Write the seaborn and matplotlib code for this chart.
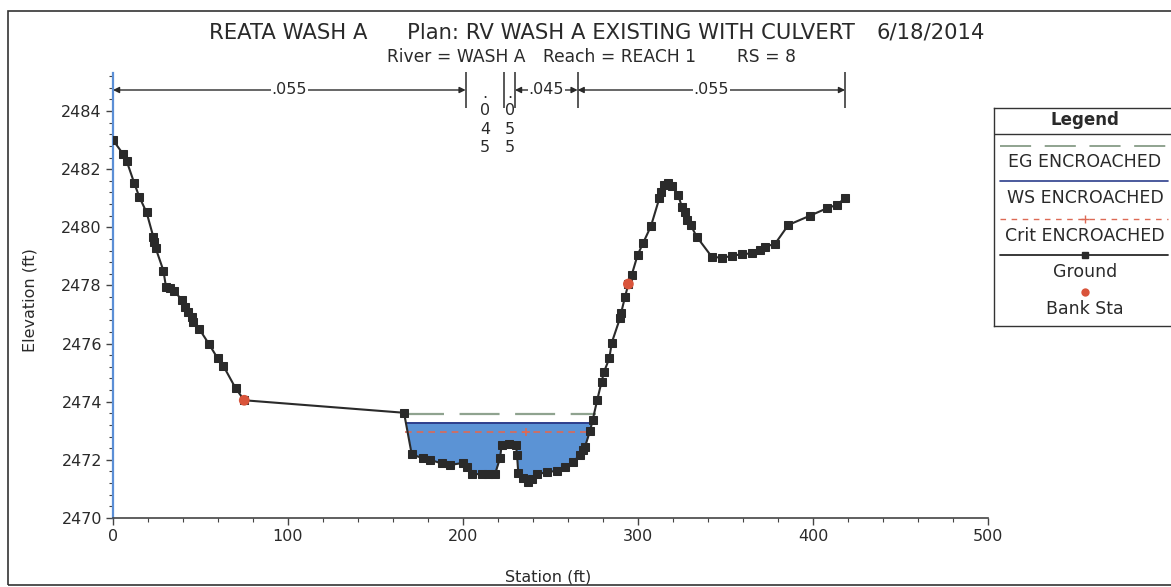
import numpy as np
import matplotlib
matplotlib.use("Agg")
import matplotlib.pyplot as plt
from matplotlib.patches import Rectangle
from matplotlib.ticker import MultipleLocator
import seaborn as sns

# ---------------- data ----------------
STATION = [0.0, 5.9, 7.8, 12.2, 15.0, 19.2, 23.0, 23.6, 24.4, 28.8, 30.3, 32.6, 35.0,
           39.2, 41.1, 43.0, 45.0, 45.9, 49.3, 54.9, 59.8, 63.0, 70.1, 75.0,
           166.3, 170.7, 177.3, 181.1, 187.8, 192.6, 200.2, 202.1, 205.0, 210.7, 214.5,
           218.3, 221.1, 222.1, 226.3, 230.3, 230.9, 231.6, 234.1, 237.3, 239.2, 242.1,
           248.0, 253.5, 258.0, 263.0, 266.9, 268.8, 269.7, 272.6, 274.1, 276.7, 279.2,
           280.6, 283.6, 285.0, 289.7, 290.3, 292.6, 294.5, 296.4, 299.8, 303.0, 307.4,
           312.2, 313.0, 314.9, 317.3, 319.2, 323.0, 325.0, 326.9, 328.2, 330.1, 333.5,
           342.1, 347.8, 353.5, 359.3, 365.0, 369.7, 372.6, 378.3, 385.9, 398.3, 407.8,
           413.5, 418.3]
ELEV = [2483.0, 2482.51, 2482.28, 2481.51, 2481.05, 2480.51, 2479.68, 2479.51, 2479.28,
        2478.51, 2477.94, 2477.90, 2477.82, 2477.50, 2477.27, 2477.10, 2476.92, 2476.75,
        2476.50, 2475.98, 2475.49, 2475.24, 2474.46, 2474.05,
        2473.62, 2472.19, 2472.05, 2472.00, 2471.88, 2471.82, 2471.90, 2471.77, 2471.51,
        2471.51, 2471.51, 2471.51, 2472.05, 2472.50, 2472.55, 2472.50, 2472.15, 2471.54,
        2471.37, 2471.25, 2471.33, 2471.51, 2471.57, 2471.63, 2471.75, 2471.94, 2472.17,
        2472.34, 2472.45, 2473.00, 2473.37, 2474.06, 2474.69, 2475.03, 2475.49, 2476.03,
        2476.87, 2477.04, 2477.61, 2478.05, 2478.36, 2479.05, 2479.47, 2480.04, 2481.00,
        2481.22, 2481.45, 2481.51, 2481.42, 2481.11, 2480.71, 2480.54, 2480.25, 2480.08,
        2479.68, 2478.99, 2478.95, 2479.01, 2479.08, 2479.10, 2479.22, 2479.33, 2479.43,
        2480.08, 2480.40, 2480.65, 2480.77, 2481.00]

BANK_STA = [75.0, 294.5]
BANK_ELEV = [2474.05, 2478.05]

WS_ELEV = 2473.28
EG_ELEV = 2473.58
CRIT_ELEV = 2472.95
WS_STA = [167.6, 273.7]
EG_STA = [166.3, 275.8]
CRIT_STA = [167.0, 272.6]
CRIT_MARK_STA = 236.0

N_BREAKS = [0.0, 201.5, 223.6, 229.7, 265.5, 418.3]
N_VALUES = [".055", ".045", ".055", ".045", ".055"]

TITLE_PARTS = ["REATA WASH A", "Plan: RV WASH A EXISTING WITH CULVERT", "6/18/2014"]
SUB_PARTS = ["River = WASH A", "Reach = REACH 1", "RS = 8"]
LEGEND_LABELS = ["EG ENCROACHED", "WS ENCROACHED", "Crit ENCROACHED", "Ground", "Bank Sta"]

# ---------------- style ----------------
sns.set_theme(style="white")
plt.rcParams["font.family"] = ["DejaVu Sans"]
TXT = "#2a2a2a"
GROUND_C = "#2a2a2a"
WATER_C = "#5b93d5"
WS_C = "#2c3e8c"
EG_C = "#8fa38f"
CRIT_C = "#dd6a55"
BANK_C = "#d9543b"
AXIS_BLUE = "#5b8fd6"

W, H = 1171, 587
fig = plt.figure(figsize=(W / 100, H / 100), dpi=100)
fig.patch.set_facecolor("white")

def fx(px):
    return px / W

def fy(py):
    return 1 - py / H

ax = fig.add_axes([fx(113), fy(518), (988 - 113) / W, (518 - 73) / H])
ax.set_facecolor("white")
ax.set_xlim(0, 500)
ymax = 2470 + (518 - 73) / 29.07
ax.set_ylim(2470, ymax)

# water fill
st = np.array(STATION)
el = np.array(ELEV)
m = (st >= EG_STA[0]) & (st <= EG_STA[1])
ax.fill_between(st[m], el[m], WS_ELEV, where=el[m] <= WS_ELEV, interpolate=True,
                color=WATER_C, lw=0, zorder=1)
ax.plot(WS_STA, [WS_ELEV, WS_ELEV], color=WS_C, lw=1.4, zorder=2)
ax.plot(EG_STA, [EG_ELEV, EG_ELEV], color=EG_C, lw=1.6, dashes=(18, 7), zorder=2)
ax.plot(CRIT_STA, [CRIT_ELEV, CRIT_ELEV], color=CRIT_C, lw=1.2, dashes=(4, 3), zorder=2)
ax.plot([CRIT_MARK_STA], [CRIT_ELEV], marker="+", color=CRIT_C, ms=6, mew=1.2, zorder=2)

sns.lineplot(x=STATION, y=ELEV, sort=False, estimator=None, ax=ax, color=GROUND_C,
             lw=1.5, marker="s", markersize=5.6, markeredgecolor=GROUND_C,
             markerfacecolor=GROUND_C, zorder=4)
sns.scatterplot(x=BANK_STA, y=BANK_ELEV, ax=ax, color=BANK_C, marker="o", s=60,
                edgecolor="none", linewidth=0, zorder=10)

# axes styling
for s in ["top", "right"]:
    ax.spines[s].set_visible(False)
ax.spines["left"].set_color(AXIS_BLUE)
ax.spines["left"].set_linewidth(1.6)
ax.spines["bottom"].set_color("#444444")
ax.spines["bottom"].set_linewidth(1.2)
ax.xaxis.set_major_locator(MultipleLocator(100))
ax.xaxis.set_minor_locator(MultipleLocator(20))
ax.set_yticks(np.arange(2470, 2485, 2))
ax.yaxis.set_minor_locator(MultipleLocator(0.4))
ax.tick_params(which="major", direction="out", length=5, width=1, color="#444444",
               labelsize=11.5, labelcolor=TXT, pad=3, left=True, bottom=True)
ax.tick_params(which="minor", direction="out", length=3, width=0.8, color="#444444",
               left=True, bottom=True)
ax.grid(False)
ax.set_xlabel("")
ax.set_ylabel("")

# Manning's n annotations
y_arrow = 2470 + (518 - 90) / 29.07
y_bar0 = 2470 + (518 - 108) / 29.07
y_bar1 = 2470 + (518 - 72) / 29.07
ax.vlines(N_BREAKS[1:], y_bar0, y_bar1, color=TXT, lw=1.1, clip_on=False)
for i, val in enumerate(N_VALUES):
    a, b = N_BREAKS[i], N_BREAKS[i + 1]
    c = (a + b) / 2
    if b - a > 30:
        ax.annotate("", xy=(b, y_arrow), xytext=(a, y_arrow),
                    arrowprops=dict(arrowstyle="<|-|>", color=TXT, lw=1.0,
                                    shrinkA=0, shrinkB=0, mutation_scale=9),
                    annotation_clip=False)
        ax.text(c, y_arrow, val, ha="center", va="center", fontsize=11.5, color=TXT,
                bbox=dict(facecolor="white", edgecolor="none", pad=0.6), clip_on=False)
    else:
        offs = [8.5, 25.5, 44, 62]
        for ch, off in zip(val, offs):
            ax.annotate(ch, xy=(c, y_arrow), xytext=(0, -off), textcoords="offset pixels",
                        ha="center", va="baseline", fontsize=11.5, color=TXT,
                        annotation_clip=False)

# titles
fig.text(fx(209), fy(39), TITLE_PARTS[0], fontsize=15.2, color=TXT, ha="left", va="baseline")
fig.text(fx(407), fy(39), TITLE_PARTS[1], fontsize=15.2, color=TXT, ha="left", va="baseline")
fig.text(fx(985), fy(39), TITLE_PARTS[2], fontsize=15.2, color=TXT, ha="right", va="baseline")
fig.text(fx(387), fy(62), SUB_PARTS[0], fontsize=12.3, color=TXT, ha="left", va="baseline")
fig.text(fx(543), fy(62), SUB_PARTS[1], fontsize=12.3, color=TXT, ha="left", va="baseline")
fig.text(fx(737), fy(62), SUB_PARTS[2], fontsize=12.3, color=TXT, ha="left", va="baseline")
fig.text(fx(548), fy(577), "Station (ft)", fontsize=11.5, color=TXT, ha="center", va="center")
fig.text(fx(30), fy(300), "Elevation (ft)", fontsize=11.5, color=TXT, ha="center",
         va="center", rotation=90)

# legend box
lax = fig.add_axes([fx(994), fy(326), (1182 - 994) / W, (326 - 108) / H])
lax.set_xlim(994, 1182)
lax.set_ylim(326, 108)
lax.set_xticks([])
lax.set_yticks([])
for s in lax.spines.values():
    s.set_color("#333333")
    s.set_linewidth(1.0)
lax.set_facecolor("white")
lax.plot([994, 1182], [134, 134], color="#333333", lw=1.0)
cx = 1085
lax.text(cx, 120, "Legend", ha="center", va="center", fontsize=12, fontweight="bold",
         color=TXT)
lx0, lx1 = 1000, 1168
lax.plot([lx0, lx1], [146, 146], color=EG_C, lw=1.4, dashes=(16, 7))
lax.plot([lx0, lx1], [181, 181], color=WS_C, lw=1.2)
lax.plot([lx0, lx1], [219, 219], color=CRIT_C, lw=1.0, dashes=(4, 4))
lax.plot([cx], [219], marker="+", color=CRIT_C, ms=6, mew=1.0)
lax.plot([lx0, lx1], [255, 255], color=GROUND_C, lw=1.3)
lax.plot([cx], [255], marker="s", color=GROUND_C, ms=5)
lax.plot([cx], [292], marker="o", color=BANK_C, ms=6, mec="none")
for lab, yy in zip(LEGEND_LABELS, [162, 198, 236, 272, 309]):
    lax.text(cx, yy, lab, ha="center", va="center", fontsize=12.5, color=TXT)

# outer border
fig.patches.append(Rectangle((fx(8), fy(585)), fx(1190 - 8), (585 - 11) / H,
                             transform=fig.transFigure, fill=False,
                             edgecolor="#333333", lw=1.2))

fig.savefig("out.png", dpi=100, facecolor="white")
